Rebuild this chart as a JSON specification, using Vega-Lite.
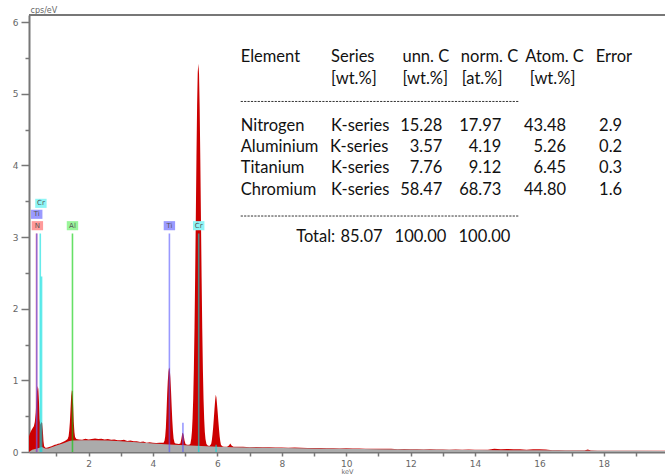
{
  "$schema": "https://vega.github.io/schema/vega-lite/v6.json",
  "width": 636,
  "height": 437,
  "autosize": {"type": "none"},
  "padding": {"left": 29, "top": 15, "right": 0, "bottom": 23},
  "background": "white",
  "config": {
    "view": {"stroke": null},
    "axisX": {
      "title": "keV", "titleFontSize": 6.5, "titleFontWeight": "normal", "titleColor": "#666", "titleFont": "DejaVu Sans", "titlePadding": 0,
      "values": [0.5,1,1.5,2,2.5,3,3.5,4,4.5,5,5.5,6,6.5,7,7.5,8,8.5,9,9.5,10,10.5,11,11.5,12,12.5,13,13.5,14,14.5,15,15.5,16,16.5,17,17.5,18,18.5,19,19.5],
      "labelExpr": "(datum.value % 2 === 0) ? datum.label : ''",
      "labelFont": "DejaVu Sans", "labelFontSize": 9, "labelColor": "#666", "labelPadding": 3,
      "tickSize": 4, "tickColor": "#777", "tickWidth": 1.5,
      "domainColor": "#777", "domainWidth": 2, "grid": false, "labelOverlap": false
    },
    "axisY": {
      "titleAngle": 0, "titleAlign": "left", "titleBaseline": "alphabetic", "titleX": 1, "titleY": -3,
      "titleFontSize": 8, "titleFontWeight": "normal", "titleColor": "#666", "titleFont": "DejaVu Sans",
      "values": [0,0.2,0.4,0.6,0.8,1,1.2,1.4,1.6,1.8,2,2.2,2.4,2.6,2.8,3,3.2,3.4,3.6,3.8,4,4.2,4.4,4.6,4.8,5,5.2,5.4,5.6,5.8,6],
      "labelExpr": "abs(datum.value - round(datum.value)) < 0.001 ? format(datum.value, 'd') : ''",
      "labelFont": "DejaVu Sans", "labelFontSize": 9, "labelColor": "#666", "labelPadding": 3,
      "tickSize": {"condition": {"test": "abs(datum.value - round(datum.value)) < 0.001", "value": 8}, "value": 4},
      "tickColor": "#777", "tickWidth": 1.5,
      "domainColor": "#777", "domainWidth": 2, "grid": false, "labelOverlap": false
    }
  },
  "datasets": {
    "spec": [
      {"e":0.15,"c":0.22},{"e":0.18,"c":0.26},{"e":0.22,"c":0.3},{"e":0.26,"c":0.33},{"e":0.3,"c":0.36},{"e":0.33,"c":0.42},{"e":0.36,"c":0.55},{"e":0.38,"c":0.72},{"e":0.4,"c":0.85},{"e":0.42,"c":0.92},{"e":0.44,"c":0.88},{"e":0.46,"c":0.7},{"e":0.48,"c":0.46},{"e":0.5,"c":0.38},{"e":0.52,"c":0.4},{"e":0.54,"c":0.42},{"e":0.56,"c":0.4},{"e":0.58,"c":0.3},{"e":0.6,"c":0.15},{"e":0.62,"c":0.08},{"e":0.66,"c":0.06},{"e":0.7,"c":0.06},
      {"e":0.75,"c":0.065},{"e":0.8,"c":0.075},{"e":0.85,"c":0.08},{"e":0.9,"c":0.09},{"e":0.95,"c":0.1},{"e":1.0,"c":0.105},{"e":1.05,"c":0.115},{"e":1.1,"c":0.12},{"e":1.15,"c":0.13},{"e":1.2,"c":0.14},{"e":1.25,"c":0.15},{"e":1.3,"c":0.165},{"e":1.35,"c":0.18},{"e":1.38,"c":0.22},
      {"e":1.4,"c":0.3},{"e":1.42,"c":0.42},{"e":1.44,"c":0.6},{"e":1.46,"c":0.78},{"e":1.48,"c":0.86},{"e":1.5,"c":0.85},{"e":1.52,"c":0.66},{"e":1.54,"c":0.42},{"e":1.56,"c":0.28},{"e":1.58,"c":0.21},{"e":1.62,"c":0.18},
      {"e":1.7,"c":0.175},{"e":1.8,"c":0.17},{"e":1.9,"c":0.185},{"e":2.0,"c":0.175},{"e":2.1,"c":0.18},{"e":2.2,"c":0.19},{"e":2.3,"c":0.18},{"e":2.4,"c":0.185},{"e":2.5,"c":0.175},{"e":2.6,"c":0.18},{"e":2.7,"c":0.17},{"e":2.8,"c":0.175},{"e":2.9,"c":0.165},{"e":3.0,"c":0.165},{"e":3.1,"c":0.17},{"e":3.2,"c":0.155},{"e":3.3,"c":0.16},{"e":3.4,"c":0.15},{"e":3.5,"c":0.15},{"e":3.6,"c":0.14},{"e":3.7,"c":0.145},{"e":3.8,"c":0.13},{"e":3.9,"c":0.135},{"e":4.0,"c":0.13},{"e":4.1,"c":0.125},{"e":4.2,"c":0.13},{"e":4.3,"c":0.13},
      {"e":4.33,"c":0.13},{"e":4.36,"c":0.16},{"e":4.38,"c":0.22},{"e":4.4,"c":0.34},{"e":4.42,"c":0.55},{"e":4.44,"c":0.8},{"e":4.46,"c":0.99},{"e":4.48,"c":1.12},{"e":4.5,"c":1.18},{"e":4.52,"c":1.16},{"e":4.54,"c":1.04},{"e":4.56,"c":0.86},{"e":4.58,"c":0.64},{"e":4.6,"c":0.44},{"e":4.62,"c":0.29},{"e":4.64,"c":0.19},{"e":4.67,"c":0.13},
      {"e":4.7,"c":0.12},{"e":4.75,"c":0.115},{"e":4.8,"c":0.11},{"e":4.85,"c":0.12},{"e":4.88,"c":0.18},{"e":4.91,"c":0.26},{"e":4.93,"c":0.27},{"e":4.95,"c":0.24},{"e":4.98,"c":0.16},{"e":5.01,"c":0.11},{"e":5.06,"c":0.1},{"e":5.12,"c":0.1},{"e":5.16,"c":0.11},
      {"e":5.19,"c":0.19},{"e":5.21,"c":0.29},{"e":5.23,"c":0.47},{"e":5.25,"c":0.75},{"e":5.27,"c":1.17},{"e":5.29,"c":1.74},{"e":5.31,"c":2.46},{"e":5.33,"c":3.28},{"e":5.35,"c":4.11},{"e":5.37,"c":4.83},{"e":5.39,"c":5.3},{"e":5.41,"c":5.42},{"e":5.43,"c":5.28},{"e":5.45,"c":4.8},{"e":5.47,"c":4.08},{"e":5.49,"c":3.25},{"e":5.51,"c":2.44},{"e":5.53,"c":1.72},{"e":5.55,"c":1.15},{"e":5.57,"c":0.74},{"e":5.59,"c":0.46},{"e":5.61,"c":0.28},{"e":5.63,"c":0.18},{"e":5.66,"c":0.11},
      {"e":5.7,"c":0.09},{"e":5.75,"c":0.085},{"e":5.79,"c":0.1},{"e":5.81,"c":0.12},{"e":5.83,"c":0.17},{"e":5.85,"c":0.25},{"e":5.87,"c":0.35},{"e":5.89,"c":0.47},{"e":5.91,"c":0.6},{"e":5.93,"c":0.72},{"e":5.95,"c":0.8},{"e":5.97,"c":0.76},{"e":5.99,"c":0.66},{"e":6.01,"c":0.55},{"e":6.03,"c":0.43},{"e":6.05,"c":0.32},{"e":6.07,"c":0.22},{"e":6.09,"c":0.15},{"e":6.11,"c":0.1},{"e":6.15,"c":0.08},
      {"e":6.2,"c":0.075},{"e":6.3,"c":0.075},{"e":6.36,"c":0.09},{"e":6.4,"c":0.12},{"e":6.44,"c":0.09},{"e":6.5,"c":0.075},
      {"e":6.6,"c":0.074},{"e":6.8,"c":0.072},{"e":7.0,"c":0.068},{"e":7.2,"c":0.07},{"e":7.4,"c":0.066},{"e":7.6,"c":0.067},{"e":7.8,"c":0.062},{"e":8.0,"c":0.063},{"e":8.2,"c":0.06},{"e":8.4,"c":0.062},{"e":8.6,"c":0.058},{"e":8.8,"c":0.057},{"e":9.0,"c":0.056},{"e":9.2,"c":0.055},{"e":9.4,"c":0.053},{"e":9.6,"c":0.054},{"e":9.8,"c":0.05},{"e":10.0,"c":0.052},{"e":10.2,"c":0.049},{"e":10.4,"c":0.05},{"e":10.6,"c":0.046},{"e":10.8,"c":0.047},{"e":11.0,"c":0.044},{"e":11.2,"c":0.045},{"e":11.4,"c":0.044},{"e":11.6,"c":0.04},{"e":11.8,"c":0.041},{"e":12.0,"c":0.04},{"e":12.2,"c":0.039},{"e":12.4,"c":0.036},{"e":12.6,"c":0.038},{"e":12.8,"c":0.035},{"e":13.0,"c":0.036},{"e":13.2,"c":0.033},{"e":13.4,"c":0.034},{"e":13.6,"c":0.032},{"e":13.8,"c":0.034},{"e":14.0,"c":0.031},{"e":14.2,"c":0.03},{"e":14.4,"c":0.032},{"e":14.6,"c":0.045},{"e":14.8,"c":0.04},{"e":15.0,"c":0.042},{"e":15.2,"c":0.038},{"e":15.4,"c":0.04},{"e":15.6,"c":0.03},{"e":15.8,"c":0.037},{"e":16.0,"c":0.038},{"e":16.2,"c":0.036},{"e":16.4,"c":0.024},{"e":16.6,"c":0.023},{"e":16.8,"c":0.022},{"e":17.0,"c":0.021},{"e":17.2,"c":0.021},{"e":17.4,"c":0.02},{"e":17.5,"c":0.035},{"e":17.6,"c":0.02},{"e":17.8,"c":0.019},{"e":18.0,"c":0.019},{"e":18.4,"c":0.018},{"e":18.8,"c":0.017},{"e":19.2,"c":0.017},{"e":19.6,"c":0.016},{"e":19.9,"c":0.016}
    ],
    "bg": [
      {"e":0.15,"b":0.0},{"e":0.25,"b":0.03},{"e":0.4,"b":0.05},{"e":0.55,"b":0.07},{"e":0.65,"b":0.05},{"e":0.75,"b":0.05},{"e":1.0,"b":0.09},{"e":1.2,"b":0.12},{"e":1.4,"b":0.155},{"e":1.5,"b":0.16},{"e":1.8,"b":0.165},{"e":2.2,"b":0.165},{"e":2.6,"b":0.16},{"e":3.0,"b":0.15},{"e":3.5,"b":0.135},{"e":4.0,"b":0.12},{"e":4.5,"b":0.105},{"e":5.0,"b":0.095},{"e":5.5,"b":0.085},{"e":6.0,"b":0.075},{"e":6.5,"b":0.068},{"e":7.0,"b":0.063},{"e":8.0,"b":0.056},{"e":9.0,"b":0.05},{"e":10.0,"b":0.045},{"e":11.0,"b":0.04},{"e":12.0,"b":0.036},{"e":13.0,"b":0.032},{"e":14.0,"b":0.029},{"e":15.0,"b":0.026},{"e":16.0,"b":0.023},{"e":17.0,"b":0.02},{"e":18.0,"b":0.018},{"e":19.0,"b":0.016},{"e":19.9,"b":0.015}
    ],
    "lines": [
      {"el":"N","energy":0.385,"top":3.05},
      {"el":"Ti","energy":0.39,"top":3.05},
      {"el":"Cr","energy":0.5,"top":3.05},
      {"el":"Cr","energy":0.54,"top":2.45},
      {"el":"Al","energy":1.5,"top":3.05},
      {"el":"Ti","energy":4.51,"top":3.05},
      {"el":"Ti","energy":4.93,"top":0.41},
      {"el":"Cr","energy":5.42,"top":3.05},
      {"el":"Cr","energy":5.96,"top":0.1}
    ],
    "labels": [
      {"el":"N","energy":0.41,"level":3.159},
      {"el":"Ti","energy":0.39,"level":3.318},
      {"el":"Cr","energy":0.52,"level":3.471},
      {"el":"Al","energy":1.5,"level":3.159},
      {"el":"Ti","energy":4.51,"level":3.159},
      {"el":"Cr","energy":5.42,"level":3.159}
    ],
    "table": [
      {"t":"Element","x":6.724,"y":5.437,"kind":"text"},
      {"t":"Series","x":9.53,"y":5.437,"kind":"text"},
      {"t":"unn. C","x":11.747,"y":5.437,"kind":"text"},
      {"t":"norm. C","x":13.561,"y":5.437,"kind":"text"},
      {"t":"Atom. C","x":15.561,"y":5.437,"kind":"text"},
      {"t":"Error","x":17.747,"y":5.437,"kind":"text"},
      {"t":"[wt.%]","x":9.53,"y":5.137,"kind":"text"},
      {"t":"[wt.%]","x":11.747,"y":5.137,"kind":"text"},
      {"t":"[at.%]","x":13.59,"y":5.137,"kind":"text"},
      {"t":"[wt.%]","x":15.7,"y":5.137,"kind":"text"},
      {"t":"Nitrogen","x":6.724,"y":4.474,"kind":"text"},
      {"t":"K-series","x":9.53,"y":4.474,"kind":"text"},
      {"t":"Aluminium","x":6.724,"y":4.181,"kind":"text"},
      {"t":"K-series","x":9.5,"y":4.181,"kind":"text"},
      {"t":"Titanium","x":6.724,"y":3.888,"kind":"text"},
      {"t":"K-series","x":9.53,"y":3.888,"kind":"text"},
      {"t":"Chromium","x":6.724,"y":3.587,"kind":"text"},
      {"t":"K-series","x":9.53,"y":3.587,"kind":"text"},
      {"t":"Total:","x":9.66,"y":2.935,"kind":"num"},
      {"t":"85.07","x":11.13,"y":2.935,"kind":"num"},
      {"t":"100.00","x":13.11,"y":2.935,"kind":"num"},
      {"t":"100.00","x":15.096,"y":2.935,"kind":"num"},
      {"t":"15.28","x":12.987,"y":4.474,"kind":"num"},
      {"t":"3.57","x":12.987,"y":4.181,"kind":"num"},
      {"t":"7.76","x":12.987,"y":3.888,"kind":"num"},
      {"t":"58.47","x":12.987,"y":3.587,"kind":"num"},
      {"t":"17.97","x":14.817,"y":4.474,"kind":"num"},
      {"t":"4.19","x":14.817,"y":4.181,"kind":"num"},
      {"t":"9.12","x":14.817,"y":3.888,"kind":"num"},
      {"t":"68.73","x":14.817,"y":3.587,"kind":"num"},
      {"t":"43.48","x":16.83,"y":4.474,"kind":"num"},
      {"t":"5.26","x":16.83,"y":4.181,"kind":"num"},
      {"t":"6.45","x":16.83,"y":3.888,"kind":"num"},
      {"t":"44.80","x":16.83,"y":3.587,"kind":"num"},
      {"t":"2.9","x":18.568,"y":4.474,"kind":"num"},
      {"t":"0.2","x":18.568,"y":4.181,"kind":"num"},
      {"t":"0.3","x":18.568,"y":3.888,"kind":"num"},
      {"t":"1.6","x":18.568,"y":3.587,"kind":"num"}
    ],
    "seps": [
      {"x":6.724,"x2":15.375,"y":4.893},
      {"x":6.724,"x2":15.375,"y":3.294}
    ]
  },
  "layer": [
    {
      "data": {"name": "spec"},
      "mark": {"type": "area", "color": "#cc0000", "interpolate": "linear"},
      "encoding": {
        "x": {"field": "e", "type": "quantitative", "title": "keV",
          "scale": {"domain": [0.15, 19.9], "nice": false, "zero": false}},
        "y": {"field": "c", "type": "quantitative", "title": "cps/eV",
          "scale": {"domain": [0, 6.1], "nice": false}}
      }
    },
    {
      "data": {"name": "bg"},
      "mark": {"type": "area", "color": "#ababab", "interpolate": "linear"},
      "encoding": {
        "x": {"field": "e", "type": "quantitative", "title": "keV"},
        "y": {"field": "b", "type": "quantitative", "title": "cps/eV"}
      }
    },
    {
      "data": {"values": [{}]},
      "mark": {"type": "rule", "color": "#777", "strokeWidth": 2},
      "encoding": {"y": {"datum": 6.1, "type": "quantitative", "title": "cps/eV"}}
    },
    {
      "data": {"name": "lines"},
      "mark": {"type": "rule", "strokeWidth": 1.6, "opacity": 0.6},
      "encoding": {
        "x": {"field": "energy", "type": "quantitative", "title": "keV"},
        "y": {"field": "top", "type": "quantitative", "title": "cps/eV"},
        "y2": {"datum": 0},
        "stroke": {"field": "el", "type": "nominal", "legend": null,
          "scale": {"domain": ["N", "Ti", "Cr", "Al"], "range": ["#ff3030", "#5555ff", "#00dede", "#00cc00"]}}
      }
    },
    {
      "data": {"name": "labels"},
      "mark": {"type": "point", "shape": "M-1,-0.8H1V0.8H-1Z", "filled": true, "opacity": 1, "size": 130},
      "encoding": {
        "x": {"field": "energy", "type": "quantitative", "title": "keV"},
        "y": {"field": "level", "type": "quantitative", "title": "cps/eV"},
        "fill": {"field": "el", "type": "nominal", "legend": null,
          "scale": {"domain": ["N", "Ti", "Cr", "Al"], "range": ["#ff9a9a", "#9a9aff", "#8ef5f5", "#9af59a"]}}
      }
    },
    {
      "data": {"name": "labels"},
      "mark": {"type": "text", "fontSize": 7, "font": "DejaVu Sans", "color": "#555", "align": "center", "baseline": "middle"},
      "encoding": {
        "x": {"field": "energy", "type": "quantitative", "title": "keV"},
        "y": {"field": "level", "type": "quantitative", "title": "cps/eV"},
        "text": {"field": "el"}
      }
    },
    {
      "data": {"name": "table"},
      "transform": [{"filter": "datum.kind === 'text'"}],
      "mark": {"type": "text", "font": "Lato", "fontSize": 16.5, "color": "#111", "align": "left", "baseline": "alphabetic"},
      "encoding": {
        "x": {"field": "x", "type": "quantitative", "title": "keV"},
        "y": {"field": "y", "type": "quantitative", "title": "cps/eV"},
        "text": {"field": "t"}
      }
    },
    {
      "data": {"name": "table"},
      "transform": [{"filter": "datum.kind === 'num'"}],
      "mark": {"type": "text", "font": "Lato", "fontSize": 16.5, "color": "#111", "align": "right", "baseline": "alphabetic"},
      "encoding": {
        "x": {"field": "x", "type": "quantitative", "title": "keV"},
        "y": {"field": "y", "type": "quantitative", "title": "cps/eV"},
        "text": {"field": "t"}
      }
    },
    {
      "data": {"name": "seps"},
      "mark": {"type": "rule", "color": "#333", "strokeWidth": 1, "strokeDash": [2.2, 1.2]},
      "encoding": {
        "x": {"field": "x", "type": "quantitative", "title": "keV"},
        "x2": {"field": "x2"},
        "y": {"field": "y", "type": "quantitative", "title": "cps/eV"}
      }
    }
  ]
}
